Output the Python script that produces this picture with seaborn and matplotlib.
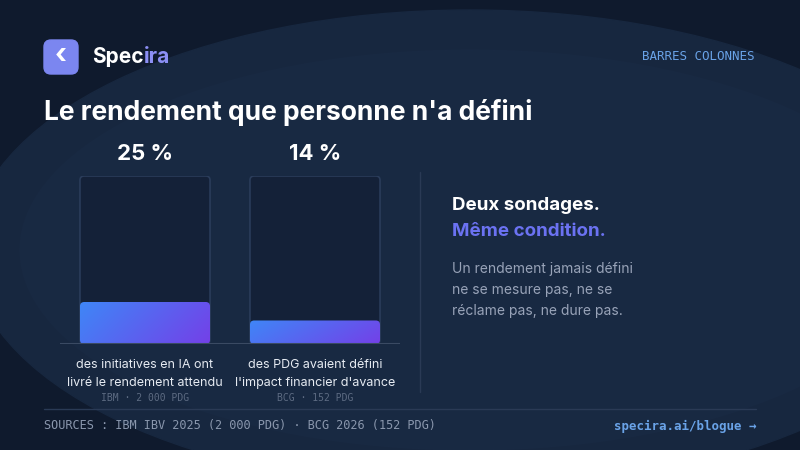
import numpy as np
import pandas as pd
import matplotlib
matplotlib.use("Agg")
import matplotlib.pyplot as plt
from matplotlib.patches import FancyBboxPatch, Ellipse
from matplotlib.colors import LinearSegmentedColormap
import seaborn as sns

categories = ["IBM", "BCG"]
values = [25, 14]
value_labels = ["25 %", "14 %"]
descriptions = ["des initiatives en IA ont\nlivré le rendement attendu",
                "des PDG avaient défini\nl'impact financier d'avance"]
sources = ["IBM · 2 000 PDG", "BCG · 152 PDG"]

sns.set_theme(style="white")
plt.rcParams['font.family'] = ['Inter', 'DejaVu Sans']

W, H = 800, 450
fig = plt.figure(figsize=(8, 4.5), dpi=100)
fig.patch.set_facecolor("#0f1a2d")
bg = fig.add_axes([0, 0, 1, 1])
bg.set_xlim(0, W); bg.set_ylim(H, 0); bg.axis("off")
bg.add_patch(Ellipse((470, 250), 1000, 480, color="#17273f", zorder=0))
bg.add_patch(Ellipse((470, 250), 900, 400, color="#1a2b45", zorder=0, alpha=0.5))

logo = FancyBboxPatch((44, 40), 34, 34, boxstyle="round,pad=0,rounding_size=7",
                      color="#7b86f0", zorder=2)
bg.add_patch(logo)
bg.text(61, 56, "‹", color="white", fontsize=20, ha="center", va="center", fontweight="bold", zorder=3)
t1 = bg.text(92, 57, "Spec", color="white", fontsize=15, fontweight="bold", va="center")
fig.canvas.draw()
bb = t1.get_window_extent(fig.canvas.get_renderer())
bg.text(92 + bb.width, 57, "ira", color="#8c8ff5", fontsize=15, fontweight="bold", va="center")
bg.text(755, 57, "BARRES COLONNES", color="#6aa3e8", fontsize=9, family="DejaVu Sans Mono",
        ha="right", va="center")
bg.text(44, 112, "Le rendement que personne n'a défini", color="white", fontsize=19,
        fontweight="bold", va="center")
bg.plot([420, 420], [172, 392], color="#2a3a55", lw=1)
bg.text(452, 205, "Deux sondages.", color="white", fontsize=13.5, fontweight="bold", va="center")
bg.text(452, 231, "Même condition.", color="#6b72f2", fontsize=13.5, fontweight="bold", va="center")
bg.text(452, 290, "Un rendement jamais défini\nne se mesure pas, ne se\nréclame pas, ne dure pas.",
        color="#98a3b8", fontsize=10, va="center", linespacing=1.6)
bg.plot([44, 756], [409, 409], color="#2a3a55", lw=1)
bg.text(44, 426, "SOURCES : IBM IBV 2025 (2 000 PDG) · BCG 2026 (152 PDG)", color="#8a97ad",
        fontsize=8.6, family="DejaVu Sans Mono", va="center")
bg.text(756, 426, "specira.ai/blogue →", color="#6aa3e8", fontsize=9,
        family="DejaVu Sans Mono", ha="right", va="center", fontweight="bold")

ax = fig.add_axes([60/W, 1-344/H, 340/W, 168/H])
ax.set_facecolor("none")
df = pd.DataFrame({"cat": categories, "val": values})
track = pd.DataFrame({"cat": categories, "val": [100]*len(categories)})
sns.barplot(data=track, x="cat", y="val", ax=ax, width=0.765, color="#15233a", linewidth=0)
sns.barplot(data=df, x="cat", y="val", ax=ax, width=0.765, color="#4f7cf5", linewidth=0)
ax.set_xlim(-0.5, 1.5); ax.set_ylim(0, 100)
ax.axis("off")
ax.axhline(0, color="#3a4a63", lw=1.5, zorder=5)
asp = (100 / 168) / (2 / 340)
for p in ax.patches[:len(categories)]:
    x0, y0, w, h = p.get_x(), p.get_y(), p.get_width(), p.get_height()
    p.set_visible(False)
    ax.add_patch(FancyBboxPatch((x0, y0), w, h, boxstyle="round,pad=0,rounding_size=0.025",
                                mutation_aspect=asp, facecolor="#142138", edgecolor="#2a3c5a",
                                linewidth=1.2, zorder=1))
grad = np.linspace(0, 1, 256)[None, :] * np.ones((64, 1)) + np.linspace(0, 0.3, 64)[:, None]
cmap = LinearSegmentedColormap.from_list("g", ["#3f86f7", "#7440e8"])
for p in ax.patches[len(categories):2*len(categories)]:
    x0, y0, w, h = p.get_x(), p.get_y(), p.get_width(), p.get_height()
    p.set_visible(False)
    clip = FancyBboxPatch((x0, y0), w, h, boxstyle="round,pad=0,rounding_size=0.025",
                          mutation_aspect=asp, transform=ax.transData,
                          facecolor="none", edgecolor="none")
    ax.add_patch(clip)
    im = ax.imshow(grad, cmap=cmap, extent=(x0, x0+w, y0, y0+h), aspect="auto", zorder=3,
                   vmin=0, vmax=1.3)
    im.set_clip_path(clip)
for i, (lbl, d, s) in enumerate(zip(value_labels, descriptions, sources)):
    ax.text(i, 107, lbl, ha="center", va="bottom", color="white", fontsize=16, fontweight="bold")
    ax.text(i, -9, d, ha="center", va="top", color="#e6ebf2", fontsize=9, linespacing=1.6)
    ax.text(i, -29, s, ha="center", va="top", color="#5d6b82", fontsize=7,
            family="DejaVu Sans Mono")
ax.set_xlim(-0.5, 1.5); ax.set_ylim(0, 100)

fig.savefig("out.png", dpi=100, facecolor=fig.get_facecolor())
